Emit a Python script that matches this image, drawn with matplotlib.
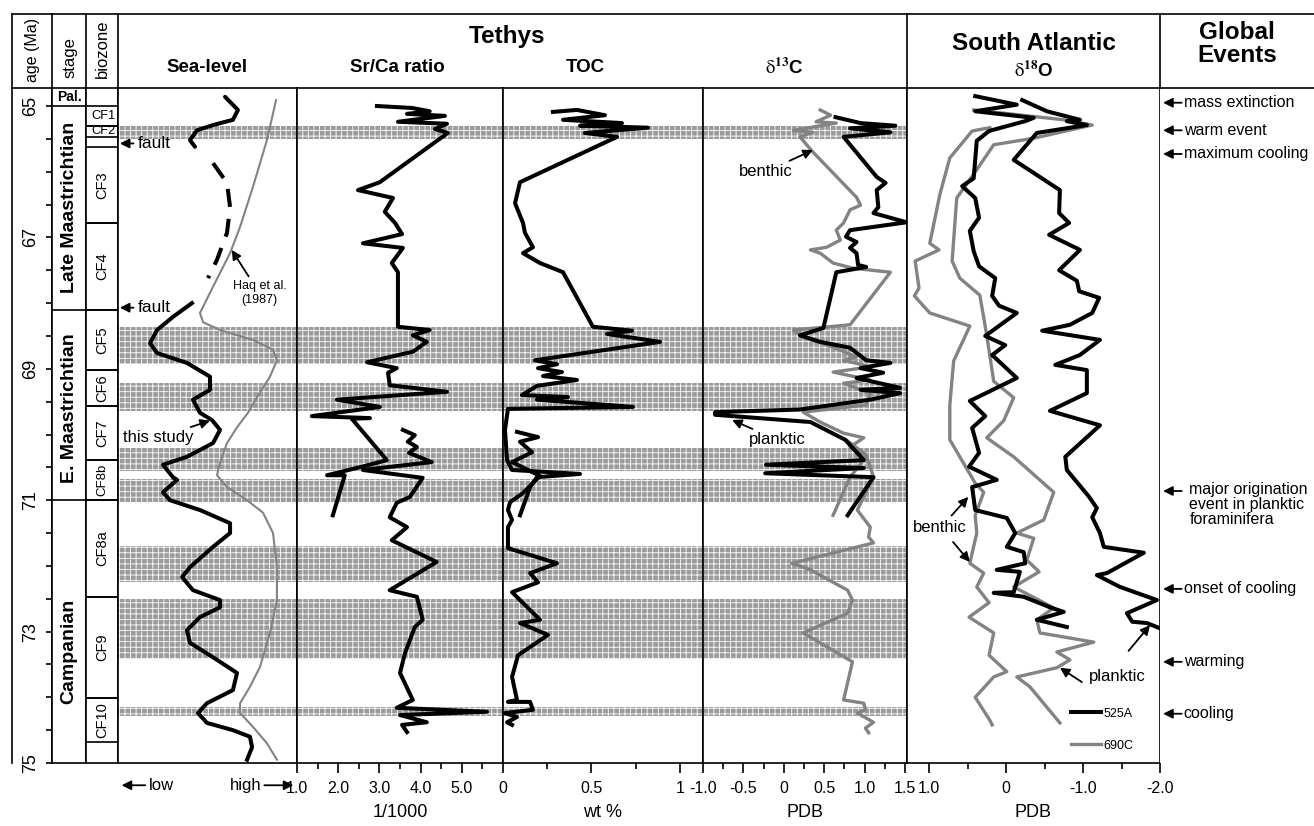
import matplotlib.pyplot as plt
from matplotlib.lines import Line2D

plt.rcParams['font.family'] = ['Liberation Sans', 'DejaVu Sans']
plt.rcParams['mathtext.fontset'] = 'stix'
plt.rcParams['hatch.color'] = 'white'
plt.rcParams['hatch.linewidth'] = 0.6

# ---------------- data (age in Ma) ----------------
age_ticks = [65 + 0.5 * i for i in range(21)]
age_labels = [65, 67, 69, 71, 73, 75]

stage_names = ['Pal.', 'Late Maastrichtian', 'E. Maastrichtian', 'Campanian']
stage_label_age = [64.87, 66.55, 69.6, 73.3]
stage_bounds = [65.0, 68.1, 71.0]

zone_names = ['CF1', 'CF2', 'CF3', 'CF4', 'CF5', 'CF6', 'CF7', 'CF8b', 'CF8a', 'CF9', 'CF10']
zone_top = [65.0, 65.3, 65.62, 66.78, 68.1, 69.02, 69.57, 70.39, 71.0, 72.47, 74.01]
zone_bottom = [65.3, 65.47, 66.78, 68.1, 69.02, 69.57, 70.39, 71.0, 72.47, 74.01, 74.68]

band_top = [65.30, 68.37, 69.22, 70.21, 70.68, 71.70, 72.51, 74.15]
band_bottom = [65.50, 68.92, 69.64, 70.55, 71.03, 72.25, 73.42, 74.29]

# sea level (relative units 0 = low, 10 = high)
sl1_age = [64.86, 65.06, 65.21, 65.29, 65.37, 65.52, 65.62]
sl1_val = [5.98, 6.70, 6.42, 5.31, 4.41, 4.02, 4.30]
sl2_age = [65.87, 66.17, 66.54, 66.93, 67.34, 67.62]
sl2_val = [5.31, 6.09, 6.26, 6.09, 5.53, 5.03]
sl3_age = [68.00, 68.21, 68.41, 68.61, 68.76, 68.91, 69.12, 69.32, 69.47, 69.67, 69.78,
           69.93, 70.13, 70.34, 70.46, 70.65, 70.69, 70.88, 71.00, 71.15, 71.35, 71.50,
           71.71, 72.02, 72.17, 72.37, 72.52, 72.63, 72.78, 72.98, 73.17, 73.43, 73.63,
           73.89, 74.09, 74.24, 74.39, 74.50, 74.60, 74.76, 74.95]
sl3_val = [4.13, 3.07, 2.18, 1.79, 2.18, 3.85, 5.14, 5.14, 4.19, 4.58, 5.25,
           5.70, 5.31, 3.85, 2.51, 3.07, 3.30, 2.51, 2.91, 4.58, 6.26, 6.26,
           5.31, 4.02, 3.58, 4.19, 5.70, 5.70, 4.58, 3.85, 4.02, 5.53, 6.65,
           6.42, 4.97, 4.47, 4.97, 6.42, 7.37, 7.49, 7.21]
haq_age = [64.91, 65.52, 66.23, 66.84, 67.24, 67.75, 68.15, 68.29, 68.41, 68.56, 68.71,
           68.87, 69.12, 69.43, 69.67, 69.89, 70.13, 70.43, 70.62, 70.80, 71.00, 71.19,
           71.50, 72.02, 72.52, 73.02, 73.54, 73.84, 74.09, 74.24, 74.45, 74.70, 74.95]
haq_val = [8.83, 8.32, 7.54, 6.82, 6.26, 5.31, 4.58, 4.75, 5.70, 7.54, 8.66,
           8.88, 8.49, 7.77, 7.26, 6.65, 6.09, 5.70, 5.53, 6.09, 7.21, 8.10,
           8.66, 8.88, 8.88, 8.49, 7.93, 7.37, 6.82, 6.82, 7.54, 8.32, 8.88]

# Sr/Ca (1/1000)
sr1_age = [65.00, 65.03, 65.08, 65.12, 65.15, 65.24, 65.27, 65.35, 65.41, 66.16, 66.28,
           66.40, 66.61, 66.78, 66.95, 67.09, 67.16, 67.39, 67.53, 68.36, 68.41, 68.49,
           68.59, 68.74, 68.90, 68.99, 69.06, 69.25, 69.35, 69.47, 69.58, 69.72, 69.75,
           69.76, 70.39, 70.49, 70.62, 70.62, 71.23]
sr1_val = [2.94, 3.79, 4.22, 3.67, 4.59, 3.45, 4.64, 4.35, 4.66, 3.01, 2.48,
           3.33, 3.13, 3.38, 3.55, 2.60, 3.57, 3.30, 3.45, 3.45, 4.22, 3.81,
           4.15, 3.81, 2.70, 3.42, 3.21, 3.25, 4.64, 1.97, 3.01, 1.36, 2.77,
           2.33, 3.18, 2.58, 1.73, 2.16, 1.87]
sr2_age = [69.93, 70.01, 70.11, 70.19, 70.28, 70.42, 70.54, 70.66, 70.95, 71.04, 71.26,
           71.41, 71.61, 71.94, 72.37, 72.47, 72.82, 72.93, 73.33, 73.63, 74.04, 74.16,
           74.22, 74.27, 74.38, 74.42, 74.53]
sr2_val = [3.57, 3.86, 3.69, 3.91, 3.72, 4.27, 2.60, 4.05, 3.74, 3.42, 3.25,
           3.67, 3.30, 4.39, 3.25, 3.91, 4.05, 3.86, 3.62, 3.50, 3.81, 3.42,
           5.61, 3.50, 4.15, 3.55, 3.67]

# TOC (wt %)
toc1_age = [65.09, 65.06, 65.14, 65.21, 65.26, 65.30, 65.33, 65.41, 65.47, 66.16, 66.48,
            66.78, 66.93, 67.15, 67.24, 67.39, 67.53, 68.36, 68.42, 68.47, 68.59, 68.87,
            68.93, 68.99, 69.05, 69.11, 69.17, 69.26, 69.40, 69.43, 69.47, 69.58, 69.61,
            69.93, 70.39, 70.54, 70.60, 70.65, 70.80, 71.23]
toc1_val = [0.282, 0.418, 0.576, 0.339, 0.672, 0.435, 0.819, 0.463, 0.644, 0.096, 0.068,
            0.113, 0.124, 0.169, 0.113, 0.209, 0.339, 0.508, 0.729, 0.588, 0.887, 0.181,
            0.305, 0.198, 0.333, 0.226, 0.418, 0.192, 0.107, 0.367, 0.192, 0.734, 0.028,
            0.011, 0.023, 0.051, 0.435, 0.192, 0.153, 0.096]
toc2_age = [69.96, 70.04, 70.11, 70.27, 70.42, 70.63, 70.89, 71.03, 71.15, 71.30, 71.41,
            71.73, 71.96, 72.11, 72.25, 72.40, 72.82, 72.87, 73.05, 73.36, 73.69, 74.04,
            74.07, 74.07, 74.19, 74.24, 74.30, 74.38, 74.42]
toc2_val = [0.079, 0.198, 0.096, 0.164, 0.051, 0.209, 0.113, 0.040, 0.028, 0.051, 0.028,
            0.028, 0.305, 0.153, 0.198, 0.051, 0.209, 0.096, 0.254, 0.085, 0.051, 0.079,
            0.028, 0.153, 0.169, 0.011, 0.079, 0.023, 0.051]

# d13C (PDB): planktic (black) and benthic (grey)
c13p_age = [65.17, 65.26, 65.30, 65.34, 65.40, 65.47, 66.08, 66.17, 66.28, 66.54, 66.63,
            66.77, 66.89, 66.99, 67.07, 67.16, 67.24, 67.42, 67.45, 67.53, 68.38, 68.49,
            68.59, 68.68, 68.87, 68.91, 68.99, 69.06, 69.14, 69.29, 69.32, 69.37, 69.47,
            69.62, 69.66, 69.70, 69.81, 70.08, 70.39, 70.46, 70.51, 70.59, 70.65, 71.23]
c13p_val = [0.64, 0.95, 1.38, 0.82, 1.32, 0.74, 1.15, 1.26, 1.15, 1.17, 1.11,
            1.52, 0.82, 0.77, 0.90, 0.82, 0.90, 0.92, 1.02, 0.65, 0.49, 0.20,
            0.45, 0.82, 1.02, 1.32, 0.95, 1.23, 0.90, 1.44, 0.95, 1.44, 1.07,
            0.20, -0.85, -0.85, 0.33, 0.76, 0.99, -0.22, 0.99, -0.23, 1.11, 0.79]
c13b1_age = [65.06, 65.14, 65.24, 65.26, 65.37, 65.40, 65.47, 65.70, 66.39, 66.51, 66.58,
             66.78, 66.89, 67.04, 67.15, 67.19, 67.24, 67.39, 67.47, 67.53, 68.33, 68.41,
             68.52, 68.67, 68.82, 68.87, 68.97, 69.05, 69.17, 69.22, 69.37, 69.55, 69.66,
             69.81, 69.98, 70.05, 70.19, 70.34, 70.65, 71.23]
c13b1_val = [0.45, 0.58, 0.40, 0.65, 0.12, 0.36, 0.20, 0.36, 0.90, 0.95, 0.82,
             0.74, 0.65, 0.70, 0.53, 0.33, 0.45, 0.61, 0.86, 1.32, 0.82, 0.12,
             0.24, 0.61, 0.90, 0.74, 1.07, 0.61, 1.07, 0.74, 1.07, 1.02, 0.24,
             0.45, 0.74, 0.99, 0.82, 1.02, 0.82, 0.61]
c13b2_age = [70.08, 70.31, 70.65, 71.15, 71.41, 71.56, 71.65, 71.96, 72.06, 72.37, 72.52,
             72.72, 73.02, 73.46, 74.04, 74.09, 74.19, 74.24, 74.38, 74.47, 74.54]
c13b2_val = [0.77, 1.02, 1.11, 0.91, 1.07, 1.05, 1.11, 0.10, 0.33, 0.79, 0.85,
             0.79, 0.24, 0.85, 0.74, 0.99, 1.01, 0.91, 1.11, 1.01, 1.05]

# d18O (PDB), South Atlantic sites 525A (black) and 690C (grey)
o525p_age = [64.91, 65.08, 65.21, 65.23, 65.29, 65.41, 65.82, 66.28, 66.63, 66.78, 66.96,
             67.19, 67.50, 67.66, 67.82, 67.92, 68.15, 68.33, 68.42, 68.56, 68.79, 68.94,
             69.02, 69.37, 69.64, 69.86, 70.34, 70.54, 70.95, 71.12, 71.26, 71.50, 71.71,
             71.80, 72.11, 72.14, 72.32, 72.52, 72.72, 72.85, 72.87, 72.95]
o525p_val = [-0.21, -0.53, -0.96, -0.79, -1.05, -0.40, -0.10, -0.70, -0.69, -0.82, -0.56,
             -0.96, -0.69, -0.92, -0.95, -1.21, -1.12, -0.83, -0.47, -1.22, -0.96, -0.64,
             -1.05, -1.05, -0.57, -1.22, -0.77, -0.79, -1.08, -1.18, -1.12, -1.22, -1.27,
             -1.79, -1.31, -1.18, -1.48, -1.96, -1.57, -1.64, -1.83, -2.00]
o525b_age = [64.85, 64.98, 65.08, 65.18, 65.23, 65.38, 65.53, 66.10, 66.22, 66.40, 66.70,
             66.90, 67.21, 67.44, 67.62, 67.89, 68.04, 68.15, 68.50, 68.64, 68.79, 69.14,
             69.49, 69.72, 69.90, 70.28, 70.49, 70.69, 70.80, 71.15, 71.27, 71.50, 71.71,
             71.79, 71.96, 72.06, 72.09, 72.40, 72.41, 72.47, 72.63, 72.70, 72.82, 72.93]
o525b_val = [0.40, -0.14, 0.40, -0.36, -0.25, 0.22, 0.38, 0.42, 0.57, 0.40, 0.35,
             0.47, 0.42, 0.35, 0.14, 0.18, 0.09, -0.14, 0.27, 0.01, 0.18, -0.14,
             0.47, 0.27, 0.44, 0.35, 0.48, 0.12, 0.44, 0.40, -0.01, -0.12, -0.01,
             -0.23, -0.25, 0.12, -0.18, -0.10, 0.16, -0.23, -0.57, -0.75, -0.40, -0.79]
o690b_age = [65.33, 65.38, 65.79, 66.35, 67.09, 67.19, 67.36, 67.77, 67.89, 68.15, 68.35,
             68.88, 69.55, 70.08, 70.74, 70.88, 71.23, 71.50, 71.96, 72.11, 72.32, 72.56,
             72.78, 73.02, 73.36, 73.61, 73.69, 74.00, 74.35, 74.42]
o690b_val = [0.21, 0.44, 0.73, 0.86, 0.99, 0.87, 1.18, 1.13, 1.19, 0.99, 0.47,
             0.68, 0.73, 0.73, 0.40, 0.29, 0.40, 0.38, 0.47, 0.29, 0.38, 0.22,
             0.48, 0.16, 0.22, -0.01, 0.16, 0.40, 0.21, 0.18]
o690p_age = [65.06, 65.21, 65.29, 65.49, 65.59, 65.97, 66.40, 67.36, 67.62, 67.88, 68.49,
             69.19, 69.44, 69.79, 70.05, 70.34, 70.88, 71.30, 71.50, 71.58, 71.91, 72.09,
             72.32, 72.64, 72.82, 73.02, 73.16, 73.31, 73.43, 73.55, 73.69, 73.84, 74.39]
o690p_val = [0.42, -0.75, -1.12, -0.36, 0.16, 0.38, 0.64, 0.70, 0.60, 0.34, 0.25,
             0.16, -0.10, 0.03, 0.25, -0.10, -0.62, -0.49, -0.14, -0.36, -0.27, -0.43,
             -0.10, -0.62, -0.40, -0.44, -1.14, -0.66, -0.83, -0.66, -0.14, -0.31, -0.70]

event_names = ['mass extinction', 'warm event', 'maximum cooling',
               'major origination\nevent in planktic\nforaminifera',
               'onset of cooling', 'warming', 'cooling']
event_ages = [64.95, 65.37, 65.73, 70.86, 72.35, 73.46, 74.25]

# ---------------- layout (pixels of the 1314 x 826 picture) ----------------
W, H = 1314, 826
TOP, BOT = 88, 763
AGE_TOP, AGE_BOT = 64.726, 75.0
GREY = '#838383'
BAND = '#9b9b9b'
LW_BLACK = 2.9
LW_GREY = 2.4
ARROW = dict(arrowstyle='-|>', color='black', lw=1.3, mutation_scale=14,
             shrinkA=1, shrinkB=0)

fig = plt.figure(figsize=(W / 100, H / 100), dpi=100, facecolor='white')


def panel(x0, x1):
    ax = fig.add_axes([x0 / W, 1 - BOT / H, (x1 - x0) / W, (BOT - TOP) / H])
    ax.set_ylim(AGE_BOT, AGE_TOP)
    ax.set_yticks([])
    ax.set_xticks([])
    for s in ax.spines.values():
        s.set_linewidth(1.2)
    return ax


def bands(ax):
    for t, b in zip(band_top, band_bottom):
        ax.axhspan(t, b, facecolor=BAND, edgecolor='white', hatch='+++', lw=0, zorder=0)


def bottom_axis(ax, major, labels, minor, xlabel):
    ax.set_xticks(major)
    ax.set_xticklabels(labels)
    ax.set_xticks(minor, minor=True)
    ax.tick_params(axis='x', which='major', direction='out', length=7, width=1.2,
                   labelsize=11.5, pad=6)
    ax.tick_params(axis='x', which='minor', direction='out', length=4.5, width=1.2)
    ax.set_xlabel(xlabel, fontsize=13, labelpad=6)


def fline(xs, ys):
    fig.add_artist(Line2D([x / W for x in xs], [1 - y / H for y in ys],
                          color='black', lw=1.2))


# header frame
fline([12, 1314], [14, 14])
for xp in [12, 52, 86, 118, 907, 1160]:
    fline([xp, xp], [14, TOP])

fig.text(33 / W, 1 - 50 / H, 'age (Ma)', rotation=90, ha='center', va='center', fontsize=11.5)
fig.text(70 / W, 1 - 58 / H, 'stage', rotation=90, ha='center', va='center', fontsize=12)
fig.text(102 / W, 1 - 49 / H, 'biozone', rotation=90, ha='center', va='center', fontsize=12)
fig.text(507 / W, 1 - 36 / H, 'Tethys', ha='center', va='center', fontsize=17.5, fontweight='bold')
fig.text(207 / W, 1 - 68 / H, 'Sea-level', ha='center', va='center', fontsize=13.5, fontweight='bold')
fig.text(397 / W, 1 - 68 / H, 'Sr/Ca ratio', ha='center', va='center', fontsize=13.5, fontweight='bold')
fig.text(585 / W, 1 - 68 / H, 'TOC', ha='center', va='center', fontsize=13.5, fontweight='bold')
fig.text(784 / W, 1 - 68 / H, r'$\mathrm{\delta}^{\mathbf{13}}$C', ha='center', va='center',
         fontsize=13.5, fontweight='bold')
fig.text(1034 / W, 1 - 43 / H, 'South Atlantic', ha='center', va='center', fontsize=17.5,
         fontweight='bold')
fig.text(1034 / W, 1 - 71 / H, r'$\mathrm{\delta}^{\mathbf{18}}$O', ha='center', va='center',
         fontsize=13.5, fontweight='bold')
fig.text(1237 / W, 1 - 44 / H, 'Global\nEvents', ha='center', va='center', fontsize=17.5,
         fontweight='bold', linespacing=0.95)

# age column
ax_age = panel(12, 52)
ax_age.spines['bottom'].set_visible(False)
ax_age.yaxis.tick_right()
ax_age.set_yticks(age_ticks)
ax_age.tick_params(axis='y', direction='in', length=4, width=1.2, labelright=False)
for a in age_labels:
    ax_age.text(0.47, a, str(a), rotation=90, ha='center', va='center', fontsize=13,
                transform=ax_age.get_yaxis_transform())

# stage column
ax_stage = panel(52, 86)
ax_stage.set_xlim(0, 1)
for b in stage_bounds:
    ax_stage.axhline(b, color='black', lw=1.2)
ax_stage.text(0.5, stage_label_age[0], stage_names[0], ha='center', va='center',
              fontsize=10, fontweight='bold')
for name, a in zip(stage_names[1:], stage_label_age[1:]):
    ax_stage.text(0.5, a, name, rotation=90, ha='center', va='center', fontsize=14,
                  fontweight='bold')

# biozone column
ax_zone = panel(86, 118)
ax_zone.set_xlim(0, 1)
for name, t, b in zip(zone_names, zone_top, zone_bottom):
    ax_zone.axhline(t, color='black', lw=1.2)
    ax_zone.axhline(b, color='black', lw=1.2)
    if name in ('CF1', 'CF2'):
        ax_zone.text(0.55, (t + b) / 2, name, ha='center', va='center', fontsize=9.3)
    else:
        ax_zone.text(0.5, (t + b) / 2, name, rotation=90, ha='center', va='center',
                     fontsize=10.5 if name != 'CF8b' else 9.5)

# sea-level
ax_sea = panel(118, 297)
ax_sea.set_xlim(0, 10)
bands(ax_sea)
ax_sea.plot(haq_val, haq_age, color=GREY, lw=1.5, zorder=2)
ax_sea.plot(sl1_val, sl1_age, color='black', lw=LW_BLACK, solid_capstyle='round', zorder=3)
ax_sea.plot(sl2_val, sl2_age, color='black', lw=LW_BLACK, ls=(0, (4.5, 3)), zorder=3)
ax_sea.plot(sl3_val, sl3_age, color='black', lw=LW_BLACK, solid_joinstyle='round', zorder=3)
for a in [65.57, 68.07]:
    ax_sea.annotate('fault', xy=(0.01, a), xytext=(0.11, a),
                    xycoords=('axes fraction', 'data'), textcoords=('axes fraction', 'data'),
                    ha='left', va='center', fontsize=12.5, arrowprops=ARROW)
ax_sea.annotate('this study', xy=(5.14, 69.79), xytext=(2.25, 70.05), ha='center',
                va='center', fontsize=12, arrowprops=ARROW, zorder=5)
ax_sea.annotate('Haq et al.\n(1987)', xy=(6.35, 67.19), xytext=(7.9, 67.85), ha='center',
                va='center', fontsize=9, arrowprops=ARROW, zorder=5)
ax_sea.annotate('', xy=(0.02, -0.033), xytext=(0.16, -0.033), xycoords='axes fraction',
                arrowprops=ARROW, annotation_clip=False)
ax_sea.text(0.17, -0.033, 'low', transform=ax_sea.transAxes, ha='left', va='center',
            fontsize=12)
ax_sea.annotate('', xy=(0.98, -0.033), xytext=(0.81, -0.033), xycoords='axes fraction',
                arrowprops=ARROW, annotation_clip=False)
ax_sea.text(0.80, -0.033, 'high', transform=ax_sea.transAxes, ha='right', va='center',
            fontsize=12)

# Sr/Ca
ax_sr = panel(297, 503)
ax_sr.set_xlim(1.0, 6.0)
bands(ax_sr)
ax_sr.plot(sr1_val, sr1_age, color='black', lw=LW_BLACK, zorder=3)
ax_sr.plot(sr2_val, sr2_age, color='black', lw=LW_BLACK, zorder=3)
bottom_axis(ax_sr, [1, 2, 3, 4, 5], ['1.0', '2.0', '3.0', '4.0', '5.0'],
            [1.5, 2.5, 3.5, 4.5, 5.5], '1/1000')

# TOC
ax_toc = panel(503, 703)
ax_toc.set_xlim(0, 1.13)
bands(ax_toc)
ax_toc.plot(toc1_val, toc1_age, color='black', lw=LW_BLACK, zorder=3)
ax_toc.plot(toc2_val, toc2_age, color='black', lw=LW_BLACK, zorder=3)
bottom_axis(ax_toc, [0, 0.5, 1], ['0', '0.5', '1'], [0.25, 0.75], 'wt %')

# d13C
ax_c = panel(703, 907)
ax_c.set_xlim(-1.0, 1.525)
bands(ax_c)
ax_c.plot(c13b1_val, c13b1_age, color=GREY, lw=LW_GREY, zorder=2)
ax_c.plot(c13b2_val, c13b2_age, color=GREY, lw=LW_GREY, zorder=2)
ax_c.plot(c13p_val, c13p_age, color='black', lw=LW_BLACK, zorder=3)
bottom_axis(ax_c, [-1, -0.5, 0, 0.5, 1, 1.5], ['-1.0', '-0.5', '0', '0.5', '1.0', '1.5'],
            [-0.75, -0.25, 0.25, 0.75, 1.25], 'PDB')
ax_c.annotate('benthic', xy=(0.36, 65.67), xytext=(-0.22, 66.0), ha='center', va='center',
              fontsize=12, arrowprops=ARROW, zorder=5)
ax_c.annotate('planktic', xy=(-0.64, 69.78), xytext=(-0.08, 70.08), ha='center',
              va='center', fontsize=12, arrowprops=ARROW, zorder=5)

# d18O
ax_o = panel(907, 1160)
ax_o.set_xlim(1.286, -2.0)
h690, = ax_o.plot(o690b_val, o690b_age, color=GREY, lw=LW_GREY, zorder=2)
ax_o.plot(o690p_val, o690p_age, color=GREY, lw=LW_GREY, zorder=2)
h525, = ax_o.plot(o525b_val, o525b_age, color='black', lw=LW_BLACK, zorder=3)
ax_o.plot(o525p_val, o525p_age, color='black', lw=LW_BLACK, zorder=3)
bottom_axis(ax_o, [1, 0, -1, -2], ['1.0', '0', '-1.0', '-2.0'], [0.5, -0.5, -1.5], 'PDB')
ax_o.text(0.86, 71.41, 'benthic', ha='center', va='center', fontsize=12)
ax_o.annotate('', xy=(0.49, 70.95), xytext=(0.72, 71.25), arrowprops=ARROW)
ax_o.annotate('', xy=(0.47, 71.94), xytext=(0.70, 71.62), arrowprops=ARROW)
ax_o.text(-1.45, 73.69, 'planktic', ha='center', va='center', fontsize=12)
ax_o.annotate('', xy=(-0.70, 73.55), xytext=(-1.0, 73.78), arrowprops=ARROW)
ax_o.annotate('', xy=(-1.87, 72.90), xytext=(-1.58, 73.31), arrowprops=ARROW)
ax_o.legend([h525, h690], ['525A', '690C'], loc='lower right', bbox_to_anchor=(0.94, 0.0),
            frameon=False, fontsize=9, handlelength=2.4, handletextpad=0.2,
            labelspacing=1.6)

# global events
ax_ev = panel(1160, 1314)
ax_ev.set_xlim(0, 1)
for side in ['left', 'right', 'bottom']:
    ax_ev.spines[side].set_visible(False)
for name, a in zip(event_names, event_ages):
    ax_ev.annotate('', xy=(0.02, a), xytext=(0.15, a),
                   xycoords=('axes fraction', 'data'), textcoords=('axes fraction', 'data'),
                   arrowprops=ARROW)
    if '\n' in name:
        ax_ev.text(0.19, a - 0.13, name, transform=ax_ev.get_yaxis_transform(), ha='left',
                   va='top', fontsize=11.5, linespacing=1.0)
    else:
        ax_ev.text(0.155, a, name, transform=ax_ev.get_yaxis_transform(), ha='left',
                   va='center', fontsize=11.5)

fig.savefig('out.png', dpi=100)
